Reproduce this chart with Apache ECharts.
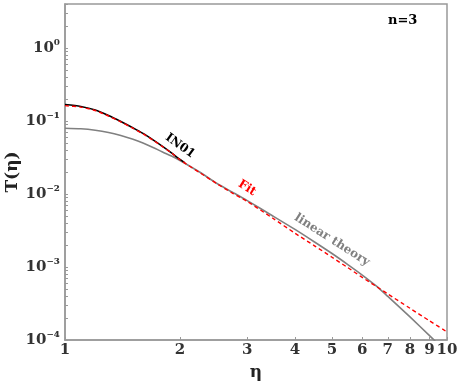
<!DOCTYPE html>
<html>
<head>
<meta charset="utf-8">
<script src="https://cdn.jsdelivr.net/npm/echarts@6/dist/echarts.min.js"></script>
<style>
  html, body { margin: 0; padding: 0; background: #fff; }
  #chart { width: 463px; height: 381px; }
</style>
</head>
<body>
<div id="chart"></div>
<script>
// eta values for each curve
const etaIN01 = [1, 1.1, 1.2, 1.3, 1.4, 1.5, 1.6, 1.7, 1.8, 1.9, 2, 2.06];
const tIN01 = [0.168, 0.158, 0.1415, 0.1188, 0.0984, 0.0815, 0.0675, 0.055, 0.0448, 0.0365, 0.0297, 0.0266];

const etaFit = [1, 1.1, 1.2, 1.3, 1.4, 1.5, 1.6, 1.7, 1.8, 1.9, 2, 2.25, 2.5, 2.75, 3, 3.5, 4, 4.5, 5, 5.5, 6, 6.5, 7, 8, 9, 10];
const tFit = [0.162, 0.155, 0.139, 0.117, 0.097, 0.0805, 0.0665, 0.0545, 0.0445, 0.0365, 0.0293, 0.0197, 0.0138, 0.0102, 0.0079,
  0.00465, 0.0029, 0.00195, 0.00136, 0.00098, 0.00072, 0.00055, 0.000427, 0.000272, 0.000183, 0.000129];

const etaLin = [1, 1.1, 1.2, 1.3, 1.4, 1.5, 1.6, 1.7, 1.8, 1.9, 2, 2.25, 2.5, 2.75, 3, 3.5, 4, 4.5, 5, 5.5, 6, 6.5, 7, 8, 9, 9.25, 9.5];
const tLin = [0.0794, 0.0781, 0.0746, 0.0695, 0.0632, 0.0566, 0.05, 0.0434, 0.0376, 0.0332, 0.0288, 0.02, 0.0139, 0.0105, 0.0081,
  0.005, 0.00327, 0.0022, 0.00153, 0.00108, 0.000776, 0.000559, 0.000395, 0.000207, 0.000115, 0.0001, 0.000086];

const xTicks = [1, 2, 3, 4, 5, 6, 7, 8, 9, 10];
const yLabels = [1e-4, 1e-3, 1e-2, 1e-1, 1];
const yTicks = [];
for (let p = -4; p <= 0; p++) {
  for (let m = 1; m <= 9; m++) {
    const v = m * Math.pow(10, p);
    if (v <= 4) yTicks.push(v);
  }
}

const serif = "DejaVu Serif";
const grey = "#808080";

function pairs(xs, ys) {
  return xs.map((x, i) => [x, ys[i]]);
}

const supMap = { "-": "\u207B", "0": "\u2070", "1": "\u00B9", "2": "\u00B2", "3": "\u00B3", "4": "\u2074" };

const chart = echarts.init(document.getElementById("chart"));
const option = {
  animation: false,
  backgroundColor: "#fff",
  grid: {
    left: 65,
    right: 16,
    top: 4,
    bottom: 41,
    outerBoundsMode: "none",
    containLabel: false,
    show: true,
    borderColor: "#999",
    borderWidth: 1.5,
  },
  xAxis: {
    type: "log",
    logBase: 10,
    min: 1,
    max: 10,
    name: "η",
    nameLocation: "middle",
    nameGap: 24,
    nameMoveOverlap: false,
    nameTextStyle: { fontFamily: serif, fontWeight: "bold", fontSize: 17, color: "#222" },
    axisLine: { lineStyle: { color: "#999", width: 1.5 } },
    axisTick: { inside: true, length: 3, lineStyle: { color: "#999" }, customValues: xTicks },
    axisLabel: {
      customValues: xTicks,
      margin: 3,
      fontFamily: serif,
      fontWeight: "bold",
      fontSize: 15,
      color: "#333",
      formatter: (v) => String(Math.round(v)),
    },
    splitLine: { show: false },
    minorTick: { show: false },
  },
  yAxis: {
    type: "log",
    logBase: 10,
    min: 1e-4,
    max: 4,
    name: "T(η)",
    nameLocation: "middle",
    nameGap: 44,
    nameMoveOverlap: false,
    nameRotate: 90,
    nameTextStyle: { fontFamily: serif, fontWeight: "bold", fontSize: 17, color: "#222" },
    axisLine: { lineStyle: { color: "#999", width: 1.5 } },
    axisTick: { inside: true, length: 3, lineStyle: { color: "#999" }, customValues: yTicks },
    axisLabel: {
      customValues: yLabels,
      margin: 5,
      formatter: (v) => {
        const e = String(Math.round(Math.log10(v)));
        const sup = e.split("").map((c) => supMap[c]).join("");
        return "{b|10}{e|" + sup + "}";
      },
      rich: {
        b: { fontFamily: serif, fontWeight: "bold", fontSize: 15, color: "#333" },
        e: { fontFamily: serif, fontWeight: "bold", fontSize: 14, color: "#333", verticalAlign: "top", padding: [0, 0, 4, 0] },
      },
    },
    splitLine: { show: false },
  },
  graphic: [
    { type: "text", left: 388, top: 14, style: { text: "n=3", fontFamily: serif, fontWeight: "bold", fontSize: 13, fill: "#000" } },
    { type: "text", x: 180, y: 146, rotation: -0.62, style: { text: "IN01", fontFamily: serif, fontWeight: "bold", fontSize: 12, fill: "#000", align: "center", verticalAlign: "middle" } },
    { type: "text", x: 247, y: 188, rotation: -0.55, style: { text: "Fit", fontFamily: serif, fontWeight: "bold", fontSize: 12, fill: "#f00", align: "center", verticalAlign: "middle" } },
    { type: "text", x: 332, y: 240, rotation: -0.57, style: { text: "linear theory", fontFamily: serif, fontWeight: "bold", fontSize: 12, fill: grey, align: "center", verticalAlign: "middle" } },
  ],
  series: [
    {
      name: "linear theory",
      type: "line",
      data: pairs(etaLin, tLin),
      smooth: 0.25,
      symbol: "none",
      lineStyle: { color: grey, width: 1.6 },
    },
    {
      name: "IN01",
      type: "line",
      data: pairs(etaIN01, tIN01),
      smooth: 0.25,
      symbol: "none",
      lineStyle: { color: "#000", width: 1.6 },
    },
    {
      name: "Fit",
      type: "line",
      data: pairs(etaFit, tFit),
      smooth: 0.25,
      symbol: "none",
      lineStyle: { color: "#f00", width: 1.4, type: [4, 3] },
    },
  ],
};
chart.setOption(option);
</script>
</body>
</html>
